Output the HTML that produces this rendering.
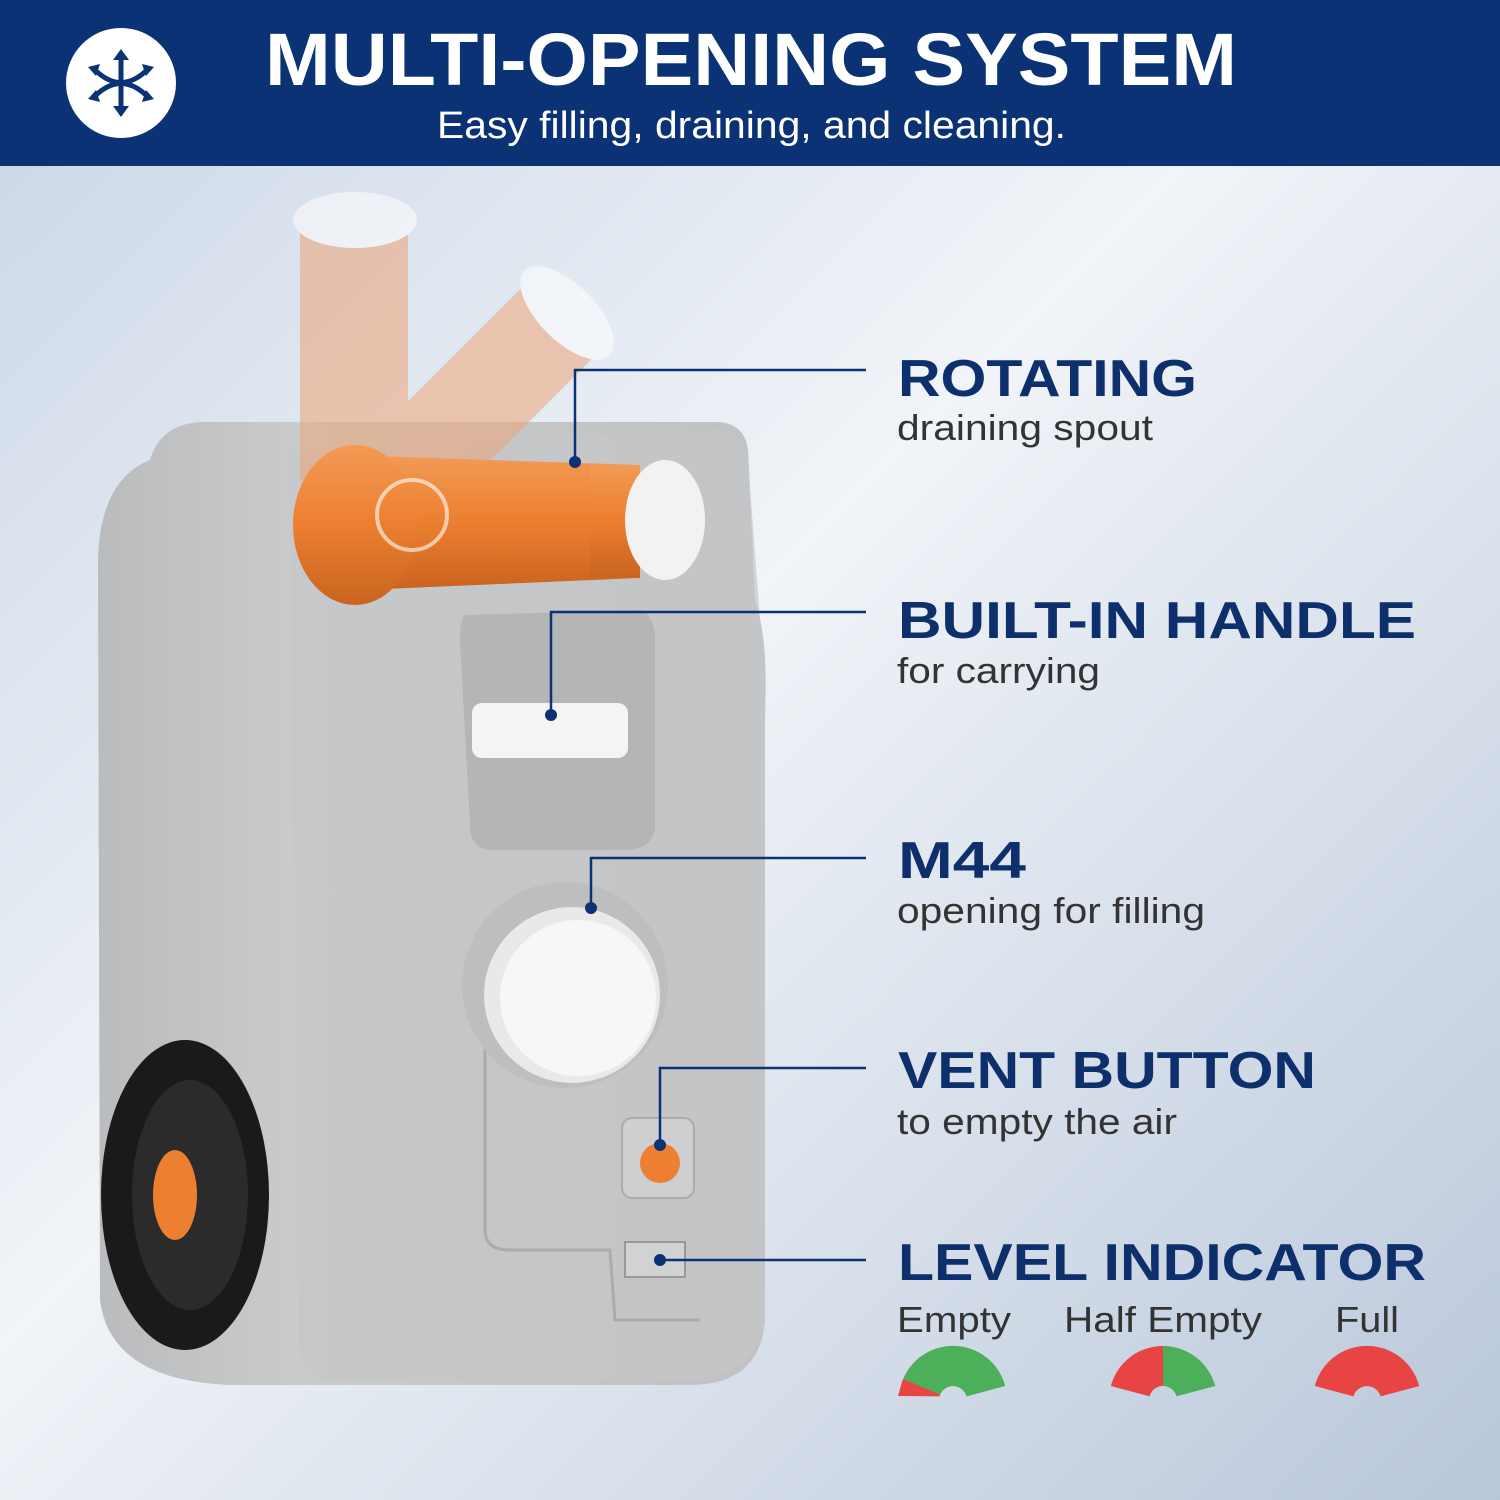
<!DOCTYPE html>
<html><head><meta charset="utf-8"><style>
html,body{margin:0;padding:0;width:1500px;height:1500px;overflow:hidden}
svg{display:block}
text{font-family:"Liberation Sans",sans-serif}
</style></head><body>
<svg width="1500" height="1500" viewBox="0 0 1500 1500" xmlns="http://www.w3.org/2000/svg">
<defs>
<linearGradient id="bg" x1="0" y1="0" x2="1" y2="1">
<stop offset="0" stop-color="#c9d6e6"/><stop offset="0.45" stop-color="#f1f4f8"/><stop offset="1" stop-color="#b9c7da"/>
</linearGradient>
<linearGradient id="body" x1="0" y1="0" x2="1" y2="0">
<stop offset="0" stop-color="#b9bbbd"/><stop offset="0.3" stop-color="#c9cbcd"/><stop offset="1" stop-color="#bfc1c3"/>
</linearGradient>
<linearGradient id="tube" x1="0" y1="0" x2="0" y2="1">
<stop offset="0" stop-color="#f29a55"/><stop offset="0.5" stop-color="#ec7f30"/><stop offset="1" stop-color="#c9641f"/>
</linearGradient>
</defs>
<rect width="1500" height="1500" fill="url(#bg)"/>
<rect width="1500" height="166" fill="#0b3275"/>
<circle cx="121" cy="83" r="55" fill="#fff"/>
<g stroke="#0b3275" stroke-width="5" fill="none" stroke-linecap="round">
<line x1="121" y1="58" x2="121" y2="108"/>
<path d="M95 70 Q121 95 147 70"/><path d="M95 96 Q121 71 147 96"/>
</g>
<g fill="#0b3275">
<polygon points="121,49 113,60 129,60"/><polygon points="121,117 113,106 129,106"/>
<polygon points="88,67 100,64 96,76"/><polygon points="154,67 142,64 146,76"/>
<polygon points="88,99 100,102 96,90"/><polygon points="154,99 142,102 146,90"/>
</g>
<text x="265" y="85" font-size="74" font-weight="bold" fill="#fff" textLength="972" lengthAdjust="spacingAndGlyphs">MULTI-OPENING SYSTEM</text>
<text x="437" y="138" font-size="38" fill="#fff" textLength="629" lengthAdjust="spacingAndGlyphs">Easy filling, draining, and cleaning.</text>

<!-- tank -->
<path d="M150 460 Q160 425 200 422 L720 422 Q745 425 748 450 L755 600 Q768 640 765 700 L765 1320 Q760 1385 690 1385 L230 1385 Q110 1380 100 1300 L98 560 Q100 480 150 460Z" fill="url(#body)"/>
<path d="M290 450 L720 430 Q745 432 748 460 L760 620 Q768 660 765 720 L765 1320 Q758 1375 690 1380 L330 1380 Q300 1375 298 1340 Z" fill="#c4c6c8" opacity="0.7"/>
<path d="M465 615 L640 610 Q655 615 655 640 L655 830 Q650 850 625 850 L490 850 Q470 848 470 825 L460 640 Q460 620 465 615Z" fill="#b3b5b7"/>
<rect x="472" y="703" width="156" height="55" rx="10" fill="#f4f4f4"/>
<path d="M485 1010 L485 1230 Q485 1250 510 1250 L610 1250 L615 1320 L700 1320" stroke="#a9abad" stroke-width="3" fill="none"/>
<circle cx="565" cy="985" r="103" fill="#bcbec0"/>
<circle cx="572" cy="995" r="88" fill="#e9e9e9"/>
<circle cx="578" cy="998" r="78" fill="#f7f7f7"/>
<rect x="622" y="1118" width="72" height="80" rx="10" fill="#cdcfd1" stroke="#a9abad" stroke-width="2"/>
<circle cx="660" cy="1163" r="20" fill="#ec7f30"/>
<rect x="625" y="1242" width="60" height="35" fill="#d0d2d4" stroke="#999" stroke-width="2"/>
<!-- wheel -->
<ellipse cx="185" cy="1195" rx="84" ry="155" fill="#1a1a1a"/>
<ellipse cx="190" cy="1195" rx="58" ry="115" fill="#2b2b2b"/>
<ellipse cx="175" cy="1195" rx="22" ry="45" fill="#ec7f30"/>
<!-- faded tubes -->
<g opacity="0.55">
<rect x="300" y="210" width="108" height="270" fill="#eea578"/>
<ellipse cx="355" cy="220" rx="62" ry="28" fill="#fff"/>
<g transform="translate(560 320) rotate(45)">
<rect x="-50" y="-20" width="100" height="250" fill="#eea578"/>
<ellipse cx="0" cy="-10" rx="60" ry="28" fill="#fff"/>
</g>
</g>
<!-- orange spout -->
<path d="M340 455 L640 465 L640 578 L360 590 Z" fill="url(#tube)"/>
<ellipse cx="355" cy="525" rx="62" ry="80" fill="url(#tube)"/>
<rect x="590" y="465" width="50" height="112" fill="url(#tube)"/>
<ellipse cx="665" cy="520" rx="40" ry="60" fill="#f2f2f2"/>
<circle cx="412" cy="515" r="35" fill="none" stroke="#fff" stroke-width="4" opacity="0.6"/>
<!-- connectors -->
<g stroke="#0b3275" stroke-width="2.5" fill="none">
<polyline points="575,462 575,370 866,370"/>
<polyline points="551,715 551,612 866,612"/>
<polyline points="591,908 591,858 866,858"/>
<polyline points="660,1145 660,1068 866,1068"/>
<polyline points="660,1260 866,1260"/>
</g>
<g fill="#0b3275"><circle cx="575" cy="462" r="6"/><circle cx="551" cy="715" r="6"/><circle cx="591" cy="908" r="6"/><circle cx="660" cy="1145" r="6"/><circle cx="660" cy="1260" r="6"/></g>
<!-- labels -->
<g font-weight="bold" fill="#0d2f6b" font-size="52">
<text x="898" y="396" textLength="299" lengthAdjust="spacingAndGlyphs">ROTATING</text>
<text x="898" y="638" textLength="518" lengthAdjust="spacingAndGlyphs">BUILT-IN HANDLE</text>
<text x="898" y="878" textLength="128" lengthAdjust="spacingAndGlyphs">M44</text>
<text x="898" y="1088" textLength="418" lengthAdjust="spacingAndGlyphs">VENT BUTTON</text>
<text x="898" y="1280" textLength="528" lengthAdjust="spacingAndGlyphs">LEVEL INDICATOR</text>
</g>
<g fill="#333" font-size="36">
<text x="897" y="440" textLength="256" lengthAdjust="spacingAndGlyphs">draining spout</text>
<text x="897" y="683" textLength="203" lengthAdjust="spacingAndGlyphs">for carrying</text>
<text x="897" y="923" textLength="308" lengthAdjust="spacingAndGlyphs">opening for filling</text>
<text x="897" y="1134" textLength="280" lengthAdjust="spacingAndGlyphs">to empty the air</text>
<text x="897" y="1332" textLength="114" lengthAdjust="spacingAndGlyphs">Empty</text>
<text x="1064" y="1332" textLength="198" lengthAdjust="spacingAndGlyphs">Half Empty</text>
<text x="1335" y="1332" textLength="64" lengthAdjust="spacingAndGlyphs">Full</text>
</g>
<g transform="translate(953 1400)">
<path d="M-52.2 -14 A54 54 0 0 1 52.2 -14 L13.5 -3.6 A14 14 0 0 0 -13.5 -3.6Z" fill="#4caf5a"/>
<path d="M-52.2 -14 A54 54 0 0 1 -49.8 -21 L-12.9 -5.4 A14 14 0 0 0 -13.5 -3.6Z" fill="#e94444"/>
<path d="M-52.2 -14 L-55 -4 L-13.5 -3.6Z" fill="#e94444"/>
</g>
<g transform="translate(1163 1400)">
<path d="M0 -54 A54 54 0 0 1 52.2 -14 L13.5 -3.6 A14 14 0 0 0 0 -14Z" fill="#4caf5a"/>
<path d="M0 -54 A54 54 0 0 0 -52.2 -14 L-13.5 -3.6 A14 14 0 0 1 0 -14Z" fill="#e94444"/>
</g>
<g transform="translate(1367 1400)">
<path d="M-52.2 -14 A54 54 0 0 1 52.2 -14 L13.5 -3.6 A14 14 0 0 0 -13.5 -3.6Z" fill="#e94444"/>
</g>
</svg>
</body></html>
